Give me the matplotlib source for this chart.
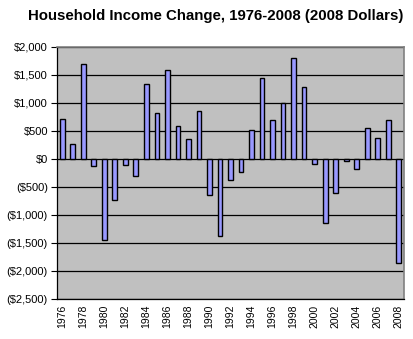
import numpy as np
import matplotlib.pyplot as plt
from matplotlib.ticker import FuncFormatter

# Household income change by year (2008 dollars)
years = np.arange(1976, 2009)
change = [710, 262, 1700, -125, -1446, -738, -107, -304, 1339, 821,
          1589, 589, 357, 857, -643, -1381, -375, -232, 518, 1440,
          690, 994, 1798, 1280, -89, -1143, -613, -42, -179, 548,
          369, 690, -1857]
tick_years = years[::2]

plt.rcParams['font.family'] = ['Liberation Sans', 'DejaVu Sans']

fig = plt.figure(figsize=(4.14, 3.39), dpi=100)
ax = fig.add_axes([57/414, 1-299/339, 347/414, 252/339])
ax.set_facecolor('#C0C0C0')
ax.bar(years, change, width=0.45, color='#9999FF', edgecolor='black', linewidth=1.0, zorder=3)

ax.set_ylim(-2500, 2000)
ax.set_yticks(np.arange(-2500, 2001, 500))
ax.yaxis.grid(True, color='black', linewidth=0.9, zorder=1)

def money(v, pos):
    if v < 0:
        return '(${:,.0f})'.format(-v)
    return '${:,.0f}'.format(v)

ax.yaxis.set_major_formatter(FuncFormatter(money))
ax.set_xlim(1975.5, 2008.5)
ax.set_xticks(tick_years)
ax.set_xticklabels([str(y) for y in tick_years], rotation=90)
ax.tick_params(axis='y', labelsize=8, length=4, width=0.8, colors='black', pad=2.5)
ax.tick_params(axis='x', labelsize=7.5, length=0, pad=4)

for s in ['top', 'right']:
    ax.spines[s].set_color('#808080')
    ax.spines[s].set_linewidth(1.2)
for s in ['left', 'bottom']:
    ax.spines[s].set_color('black')
    ax.spines[s].set_linewidth(0.9)

fig.text(0.52, 1-16/339, 'Household Income Change, 1976-2008 (2008 Dollars)',
         ha='center', va='center', fontsize=10.8, fontweight='bold')

fig.savefig('out.png', dpi=100)
